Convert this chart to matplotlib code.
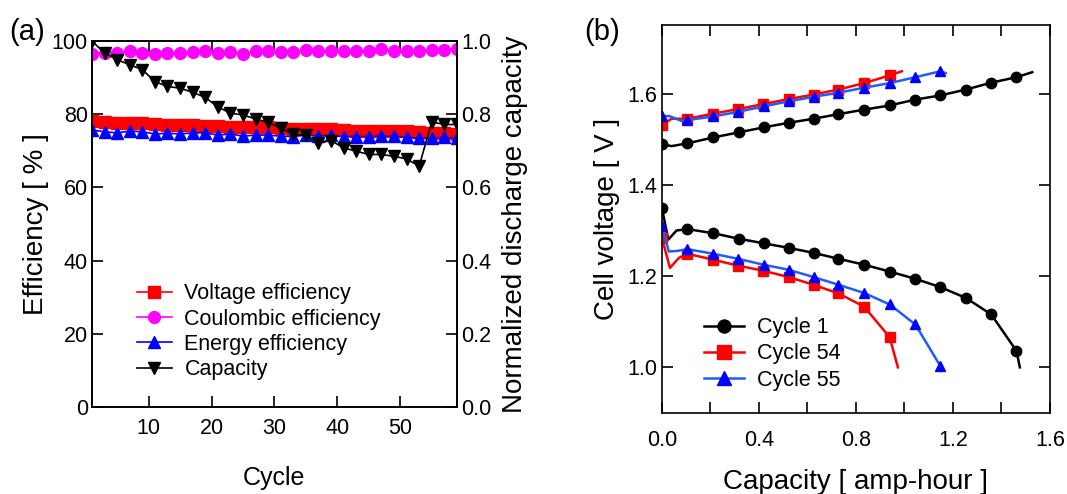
import numpy as np
import matplotlib
matplotlib.use("Agg")
import matplotlib.pyplot as plt
from matplotlib.ticker import MultipleLocator

plt.rcParams['font.family'] = ['Liberation Sans', 'DejaVu Sans']

# ---- panel (a) data: every other cycle ----
cycles = np.arange(1, 60, 2)
voltage_eff = [78.2, 77.9, 77.7, 77.7, 77.7, 77.3, 77.0, 77.0, 77.0, 76.8,
               76.8, 76.6, 76.6, 76.4, 76.4, 76.1, 76.0, 76.0, 76.0, 75.9,
               75.7, 75.5, 75.5, 75.5, 75.4, 75.4, 75.2, 74.8, 74.8, 74.6]
coulombic_eff = [96.4, 96.6, 96.6, 97.2, 96.6, 96.4, 96.8, 96.6, 97.1, 97.2,
                 96.8, 97.1, 96.4, 97.2, 97.2, 97.1, 97.1, 97.5, 97.3, 97.3,
                 97.3, 97.2, 97.3, 97.7, 97.3, 97.2, 97.3, 97.5, 97.5, 97.7]
energy_eff = [75.7, 75.2, 74.9, 75.4, 75.2, 74.6, 74.8, 74.6, 74.9, 74.9,
              74.3, 74.6, 74.0, 74.3, 74.3, 74.0, 73.9, 74.3, 74.0, 74.2,
              73.9, 73.9, 73.9, 74.0, 74.0, 73.7, 73.4, 73.4, 73.7, 73.4]
capacity = [1.000, 0.967, 0.949, 0.935, 0.922, 0.889, 0.876, 0.871, 0.860, 0.846,
            0.820, 0.803, 0.798, 0.787, 0.778, 0.762, 0.745, 0.742, 0.722, 0.728,
            0.708, 0.699, 0.690, 0.690, 0.685, 0.678, 0.658, 0.779, 0.772, 0.772]

# ---- panel (b) data: capacity [Ah] vs cell voltage [V] ----
c1_chg_x = [0.0, 0.04, 0.105, 0.212, 0.316, 0.419, 0.522, 0.625, 0.728, 0.834,
            0.939, 1.045, 1.148, 1.254, 1.358, 1.462, 1.527]
c1_chg_v = [1.489, 1.485, 1.491, 1.504, 1.515, 1.526, 1.536, 1.545, 1.555, 1.565,
            1.574, 1.587, 1.596, 1.609, 1.624, 1.636, 1.647]
c1_dis_x = [0.0, 0.026, 0.06, 0.105, 0.212, 0.316, 0.419, 0.522, 0.625, 0.728,
            0.834, 0.939, 1.045, 1.148, 1.254, 1.358, 1.462, 1.476]
c1_dis_v = [1.349, 1.280, 1.300, 1.303, 1.294, 1.282, 1.272, 1.262, 1.251, 1.238,
            1.225, 1.210, 1.194, 1.176, 1.152, 1.116, 1.036, 1.000]

c54_chg_x = [0.0, 0.04, 0.105, 0.210, 0.313, 0.416, 0.522, 0.625, 0.728, 0.834,
             0.939, 0.989]
c54_chg_v = [1.531, 1.545, 1.545, 1.556, 1.566, 1.577, 1.588, 1.598, 1.609, 1.623,
             1.640, 1.649]
c54_dis_x = [0.0, 0.033, 0.07, 0.105, 0.212, 0.313, 0.416, 0.522, 0.625, 0.728,
             0.834, 0.939, 0.973]
c54_dis_v = [1.283, 1.218, 1.240, 1.249, 1.236, 1.223, 1.212, 1.198, 1.181, 1.162,
             1.133, 1.066, 1.000]

c55_chg_x = [0.0, 0.03, 0.08, 0.105, 0.212, 0.313, 0.419, 0.522, 0.625, 0.728,
             0.834, 0.939, 1.045, 1.148, 1.170]
c55_chg_v = [1.550, 1.551, 1.540, 1.542, 1.550, 1.560, 1.572, 1.583, 1.593, 1.602,
             1.613, 1.623, 1.636, 1.649, 1.645]
c55_dis_x = [0.0, 0.028, 0.06, 0.105, 0.212, 0.313, 0.419, 0.522, 0.625, 0.728,
             0.834, 0.939, 1.045, 1.148]
c55_dis_v = [1.310, 1.254, 1.255, 1.259, 1.249, 1.238, 1.225, 1.214, 1.198, 1.181,
             1.163, 1.138, 1.094, 1.003]

fig = plt.figure(figsize=(10.67, 4.94), dpi=100)

tick_fs = 15.5
leg_fs = 15.5
label_fs = 20

# ================= panel (a) =================
ax = fig.add_axes([0.0862, 0.176, 0.342, 0.741])
ax2 = ax.twinx()
ms = 8.5
l1, = ax.plot(cycles, voltage_eff, '-s', color='red', ms=ms, lw=1.2, label='Voltage efficiency')
l2, = ax.plot(cycles, coulombic_eff, '-o', color='#ff00ff', ms=ms, lw=1.2, label='Coulombic efficiency')
l3, = ax.plot(cycles, energy_eff, '-^', color='blue', ms=ms, lw=1.2, label='Energy efficiency')
l4, = ax2.plot(cycles, capacity, '-v', color='black', ms=ms, lw=1.2, label='Capacity')

ax.set_xlim(1, 59)
ax.set_ylim(0, 100)
ax2.set_ylim(0, 1.0)
ax.set_xticks([10, 20, 30, 40, 50])
ax.set_yticks([0, 20, 40, 60, 80, 100])
ax2.set_yticks([0.0, 0.2, 0.4, 0.6, 0.8, 1.0])
ax.tick_params(axis='x', which='both', direction='in', top=True, length=8, width=1.2,
               labelsize=tick_fs, pad=8)
ax.tick_params(axis='y', direction='in', length=8, width=1.2, labelsize=tick_fs, pad=3)
ax2.tick_params(axis='y', direction='in', length=8, width=1.2, labelsize=tick_fs, pad=3)
ax.set_xlabel('Cycle', fontsize=18, labelpad=19)
ax.set_ylabel('Efficiency [ % ]', fontsize=label_fs, labelpad=2)
ax2.set_ylabel('Normalized discharge capacity', fontsize=label_fs, labelpad=8)
for a in (ax, ax2):
    for s in a.spines.values():
        s.set_linewidth(1.2)

ax.legend(handles=[l1, l2, l3, l4], loc='lower left', bbox_to_anchor=(0.1, 0.05),
          frameon=False, fontsize=leg_fs, handlelength=1.6, handletextpad=0.6,
          labelspacing=0.2, borderaxespad=0)
fig.text(0.009, 0.92, '(a)', fontsize=21)

# ================= panel (b) =================
bx = fig.add_axes([0.6204, 0.164, 0.3636, 0.785])
ms2 = 7.5
lw2 = 1.8
b1, = bx.plot(c1_chg_x, c1_chg_v, '-o', color='black', ms=ms2, lw=lw2,
              markevery=[0] + list(range(2, 16)), label='Cycle 1')
bx.plot(c1_dis_x, c1_dis_v, '-o', color='black', ms=ms2, lw=lw2,
        markevery=[0] + list(range(3, 17)))
b2, = bx.plot(c54_chg_x, c54_chg_v, '-s', color='red', ms=ms2, lw=lw2,
              markevery=[0] + list(range(2, 11)), label='Cycle 54')
bx.plot(c54_dis_x, c54_dis_v, '-s', color='red', ms=ms2, lw=lw2,
        markevery=[0] + list(range(3, 12)))
b3, = bx.plot(c55_chg_x, c55_chg_v, '-^', color='#1f5cff', mfc='blue', mec='blue',
              ms=ms2, lw=lw2, markevery=[0] + list(range(3, 14)), label='Cycle 55')
bx.plot(c55_dis_x, c55_dis_v, '-^', color='#1f5cff', mfc='blue', mec='blue',
        ms=ms2, lw=lw2, markevery=[0] + list(range(3, 14)))

bx.set_xlim(0, 1.6)
bx.set_ylim(0.9, 1.75)
bx.xaxis.set_major_locator(MultipleLocator(0.4))
bx.xaxis.set_minor_locator(MultipleLocator(0.2))
bx.set_yticks([1.0, 1.2, 1.4, 1.6])
bx.xaxis.set_major_formatter(plt.FormatStrFormatter('%.1f'))
bx.yaxis.set_major_formatter(plt.FormatStrFormatter('%.1f'))
bx.tick_params(axis='both', which='both', direction='in', top=True, right=True,
               length=8, width=1.2, labelsize=tick_fs)
bx.tick_params(axis='x', which='major', pad=12)
bx.set_xlabel('Capacity [ amp-hour ]', fontsize=label_fs, labelpad=13)
bx.set_ylabel('Cell voltage [ V ]', fontsize=label_fs, labelpad=5)
for s in bx.spines.values():
    s.set_linewidth(1.2)
bx.legend(handles=[b1, b2, b3], loc='lower left', bbox_to_anchor=(0.085, 0.035),
          frameon=False, fontsize=leg_fs, handlelength=1.9, handletextpad=0.6,
          labelspacing=0.25, borderaxespad=0, markerscale=1.25)
fig.text(0.548, 0.92, '(b)', fontsize=21)

fig.savefig('out.png', dpi=100)
